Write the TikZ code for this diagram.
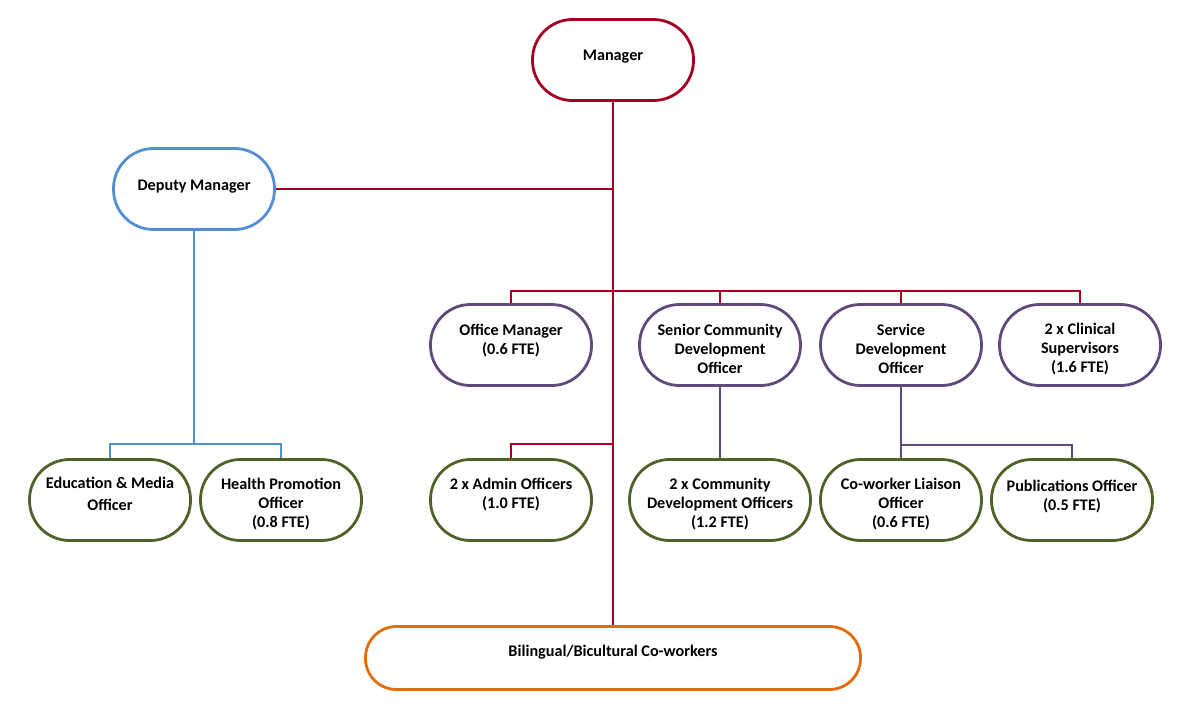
\documentclass[tikz,border=0pt]{standalone}
\usepackage{fontspec}
\setmainfont{Carlito}
\usepackage{tikz}
\usetikzlibrary{positioning,calc}

\definecolor{mgrred}{HTML}{A50021}
\definecolor{depblue}{HTML}{558ED5}
\definecolor{offpurple}{HTML}{604A7B}
\definecolor{staffgreen}{HTML}{4F6228}
\definecolor{cwkorange}{HTML}{E46C0A}

% room above / below the text in a box
\newcommand{\padtop}[1]{\rule{0pt}{#1}}
\newcommand{\padbot}[1]{\rule[-#1]{0pt}{#1}}

\begin{document}
\begin{tikzpicture}[x=1pt,y=-1pt,
  role/.style={draw, line width=2.8pt, rounded corners=40pt, minimum width=161pt,
    minimum height=81pt, align=center, font=\fontsize{16.2}{19}\selectfont\bfseries, fill=white},
  redline/.style={draw=mgrred, line width=2.8pt},
  blueline/.style={draw=depblue, line width=2.8pt},
  purpline/.style={draw=offpurple, line width=2.8pt}]
\useasboundingbox (0,0) rectangle (1181,715);

\node[role, draw=mgrred] (mgr) at (613,60) {Manager\padbot{9pt}};
\node[role, draw=depblue] (dep) at (194,189) {Deputy Manager\padbot{7pt}};
\node[role, draw=offpurple] (om) at (511,345) {Office Manager\\(0.6 FTE)\padbot{11pt}};
\node[role, draw=offpurple] (scdo) at (720,345) {\padtop{20pt}Senior Community\\Development\\Officer};
\node[role, draw=offpurple] (sdo) at (901,345) {\padtop{20pt}Service\\Development\\Officer};
\node[role, draw=offpurple] (clin) at (1080,345) {\padtop{20pt}2 x Clinical\\Supervisors\\(1.6 FTE)};
\node[role, draw=staffgreen] (edu) at (110,500) {Education \& Media\\[3pt]Officer\padbot{12pt}};
\node[role, draw=staffgreen] (hpo) at (281,500) {\padtop{20pt}Health Promotion\\Officer\\(0.8 FTE)};
\node[role, draw=staffgreen] (adm) at (511,500) {2 x Admin Officers\\(1.0 FTE)\padbot{13pt}};
\node[role, draw=staffgreen, minimum width=181pt] (cdo) at (720,500) {\padtop{20pt}2 x Community\\Development Officers\\(1.2 FTE)};
\node[role, draw=staffgreen] (cwl) at (901,500) {\padtop{20pt}Co-worker Liaison\\Officer\\(0.6 FTE)};
\node[role, draw=staffgreen] (pub) at (1072,500) {Publications Officer\\(0.5 FTE)\padbot{9pt}};
\node[role, draw=cwkorange, minimum width=495pt, minimum height=63pt, rounded corners=31pt] (bil) at (613,658) {Bilingual/Bicultural Co-workers\padbot{14pt}};

% joins on the lines
\coordinate (bus) at (613,291);
\coordinate (admbus) at (613,444);
\coordinate (depbus) at (194,444);
\coordinate (sdobus) at (901,445);

\path[redline] (mgr.south) -- (bil.north);
\path[redline] (dep.east) -- (dep.east -| mgr.south);
\path[redline] (om.north) |- (bus) -| (clin.north);
\path[redline] (scdo.north) -- (scdo.north |- bus);
\path[redline] (sdo.north) -- (sdo.north |- bus);
\path[redline] (adm.north) |- (admbus);
\path[blueline] (dep.south) -- (depbus);
\path[blueline] (edu.north) |- (depbus) -| (hpo.north);
\path[purpline] (scdo.south) -- (cdo.north);
\path[purpline] (sdo.south) -- (cwl.north);
\path[purpline] (sdo.south |- sdobus) -| (pub.north);
\end{tikzpicture}
\end{document}
